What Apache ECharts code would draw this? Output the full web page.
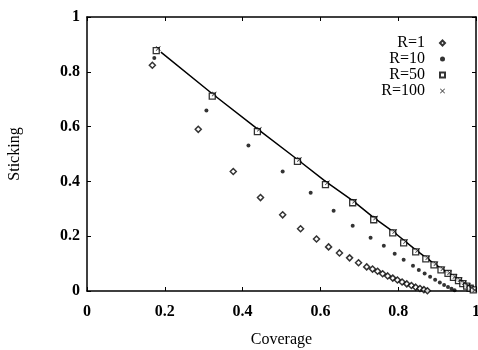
<!DOCTYPE html>
<html>
<head>
<meta charset="utf-8">
<script src="https://cdn.jsdelivr.net/npm/echarts@6/dist/echarts.min.js"></script>
<style>html,body{margin:0;padding:0;background:#fff}#c{width:478px;height:350px}</style>
</head>
<body>
<div id="c"></div>
<script>
const xTicks = [0, 0.2, 0.4, 0.6, 0.8, 1];
const yTicks = [0, 0.2, 0.4, 0.6, 0.8, 1];
const seriesNames = ['R=1', 'R=10', 'R=50', 'R=100'];

const r1 = [[0.168,0.824],[0.286,0.59],[0.376,0.436],[0.446,0.341],[0.503,0.278],[0.549,0.227],[0.59,0.19],[0.621,0.161],[0.649,0.139],[0.675,0.121],[0.698,0.103],[0.719,0.088],[0.734,0.08],[0.747,0.072],[0.76,0.063],[0.773,0.055],[0.786,0.047],[0.798,0.04],[0.81,0.033],[0.822,0.026],[0.834,0.02],[0.845,0.014],[0.856,0.009],[0.866,0.005],[0.875,0.001]];
const r10 = [[0.173,0.85],[0.307,0.659],[0.415,0.531],[0.503,0.436],[0.575,0.359],[0.634,0.293],[0.683,0.238],[0.729,0.194],[0.763,0.165],[0.791,0.136],[0.814,0.114],[0.838,0.092],[0.853,0.077],[0.868,0.064],[0.882,0.052],[0.895,0.041],[0.907,0.031],[0.918,0.022],[0.928,0.015],[0.937,0.008],[0.945,0.003]];
const r50 = [[0.178,0.877],[0.322,0.711],[0.438,0.582],[0.541,0.473],[0.613,0.388],[0.683,0.322],[0.737,0.26],[0.786,0.212],[0.814,0.176],[0.845,0.143],[0.871,0.117],[0.892,0.095],[0.91,0.077],[0.928,0.064],[0.942,0.05],[0.955,0.038],[0.966,0.027],[0.976,0.018],[0.985,0.01],[0.993,0.004]];
const r100 = [[0.183,0.885],[0.327,0.719],[0.443,0.59],[0.546,0.48],[0.618,0.395],[0.688,0.328],[0.742,0.266],[0.791,0.217],[0.819,0.181],[0.85,0.148],[0.876,0.121],[0.897,0.099],[0.915,0.081],[0.932,0.067],[0.946,0.053],[0.959,0.041],[0.97,0.03],[0.98,0.02],[0.989,0.011],[0.997,0.004]];
const fitLine = [[0.19,0.872],[0.322,0.72],[0.438,0.592],[0.541,0.48],[0.613,0.4],[0.683,0.33],[0.737,0.268],[0.786,0.218],[0.845,0.15],[0.892,0.1],[0.942,0.052],[1,0]];

const font = 'Liberation Serif';
const xSym = 'path://M0,1L1,0L5,4L9,0L10,1L6,5L10,9L9,10L5,6L1,10L0,9L4,5Z';

const chart = echarts.init(document.getElementById('c'));
const axisCommon = {
  type: 'value', min: 0, max: 1, interval: 0.2,
  splitLine: {show: false},
  axisLine: {show: true, onZero: false, lineStyle: {color: '#000', width: 1.5}},
  axisTick: {show: true, inside: true, length: 4, lineStyle: {color: '#000'}},
  axisLabel: {color: '#000', fontFamily: font, fontSize: 16, fontWeight: 'bold'}
};
chart.setOption({
  animation: false,
  backgroundColor: '#fff',
  grid: {left: 87, right: 2, top: 17, bottom: 59, containLabel: false, outerBoundsMode: 'none'},
  legend: {
    data: seriesNames,
    orient: 'vertical', right: 27, top: 30, align: 'right',
    itemGap: 0, itemWidth: 5, itemHeight: 5,
    textStyle: {fontFamily: font, fontSize: 16, lineHeight: 16, color: '#000', padding: [0, 10, 0, 0]}
  },
  xAxis: [
    Object.assign({}, axisCommon, {position: 'bottom', name: 'Coverage', nameLocation: 'middle', nameGap: 41,
      nameTextStyle: {fontFamily: font, fontSize: 16, color: '#000'},
      axisLabel: Object.assign({}, axisCommon.axisLabel, {margin: 13, formatter: v => xTicks.includes(v) ? String(v) : ''})}),
    Object.assign({}, axisCommon, {position: 'top', axisLabel: {show: false}})
  ],
  yAxis: [
    Object.assign({}, axisCommon, {position: 'left', name: 'Sticking', nameLocation: 'middle', nameGap: 64,
      nameTextStyle: {fontFamily: font, fontSize: 16, color: '#000'},
      axisLabel: Object.assign({}, axisCommon.axisLabel, {margin: 7, formatter: v => yTicks.includes(v) ? String(v) : ''})}),
    Object.assign({}, axisCommon, {position: 'right', axisLabel: {show: false}})
  ],
  series: [
    {name: 'fit', type: 'line', data: fitLine, showSymbol: false, symbol: 'none',
      lineStyle: {color: '#000', width: 1.5}, z: 1},
    {name: 'R=1', type: 'scatter', data: r1, symbol: 'diamond', symbolSize: 6,
      itemStyle: {color: '#fff', borderColor: '#000', borderWidth: 1.5}},
    {name: 'R=10', type: 'scatter', data: r10, symbol: 'circle', symbolSize: 4,
      itemStyle: {color: '#000'}},
    {name: 'R=50', type: 'scatter', data: r50, symbol: 'rect', symbolSize: 6,
      itemStyle: {color: '#fff', borderColor: '#000', borderWidth: 1.3}},
    {name: 'R=100', type: 'scatter', data: r100, symbol: xSym, symbolSize: 5,
      itemStyle: {color: '#000'}}
  ]
});
</script>
</body>
</html>
